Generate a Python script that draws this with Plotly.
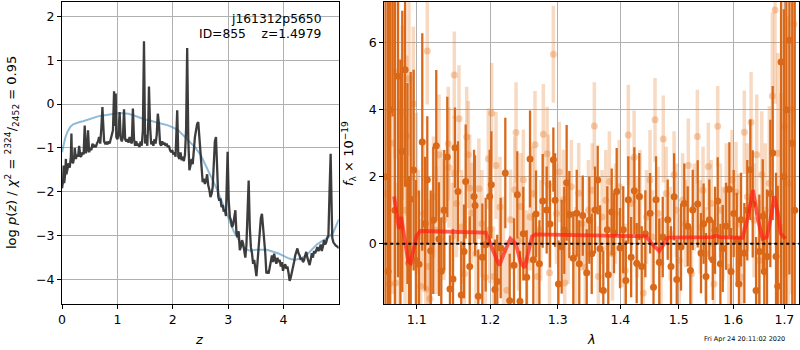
import math
import plotly.graph_objects as go

# ---------------- left panel: p(z) ----------------
Z_GRID = [
    0.00, 0.02, 0.03, 0.04, 0.06, 0.07, 0.08, 0.10, 0.12, 0.14,
    0.16, 0.17, 0.18, 0.20, 0.22, 0.23, 0.25, 0.27, 0.29, 0.31,
    0.33, 0.35, 0.37, 0.39, 0.41, 0.43, 0.45, 0.47, 0.49, 0.51,
    0.53, 0.55, 0.57, 0.59, 0.61, 0.63, 0.65, 0.67, 0.69, 0.71,
    0.73, 0.74, 0.76, 0.78, 0.80, 0.82, 0.84, 0.86, 0.88, 0.90,
    0.92, 0.94, 0.95, 0.97, 0.98, 1.00, 1.02, 1.04, 1.06, 1.08,
    1.10, 1.12, 1.14, 1.16, 1.18, 1.20, 1.22, 1.24, 1.26, 1.28,
    1.30, 1.32, 1.34, 1.36, 1.38, 1.40, 1.42, 1.44, 1.46, 1.48,
    1.50, 1.52, 1.54, 1.56, 1.57, 1.59, 1.61, 1.63, 1.65, 1.67,
    1.69, 1.71, 1.73, 1.75, 1.77, 1.79, 1.81, 1.83, 1.85, 1.87,
    1.89, 1.91, 1.93, 1.95, 1.97, 1.99, 2.01, 2.03, 2.05, 2.08,
    2.10, 2.12, 2.14, 2.16, 2.18, 2.20, 2.22, 2.24, 2.26, 2.28,
    2.30, 2.32, 2.34, 2.36, 2.38, 2.40, 2.42, 2.44, 2.46, 2.48,
    2.50, 2.52, 2.54, 2.56, 2.58, 2.60, 2.62, 2.64, 2.66, 2.68,
    2.70, 2.72, 2.74, 2.76, 2.78, 2.80, 2.82, 2.84, 2.86, 2.88,
    2.90, 2.92, 2.94, 2.96, 2.98, 2.99, 3.01, 3.03, 3.05, 3.07,
    3.09, 3.11, 3.13, 3.15, 3.17, 3.19, 3.21, 3.23, 3.25, 3.27,
    3.29, 3.31, 3.33, 3.35, 3.37, 3.39, 3.41, 3.43, 3.45, 3.47,
    3.49, 3.51, 3.53, 3.55, 3.57, 3.59, 3.61, 3.63, 3.65, 3.67,
    3.69, 3.71, 3.73, 3.75, 3.77, 3.79, 3.81, 3.83, 3.85, 3.87,
    3.89, 3.91, 3.93, 3.95, 3.97, 3.99, 4.01, 4.03, 4.05, 4.07,
    4.09, 4.11, 4.13, 4.15, 4.17, 4.19, 4.21, 4.23, 4.25, 4.27,
    4.29, 4.31, 4.33, 4.35, 4.37, 4.39, 4.41, 4.43, 4.45, 4.47,
    4.49, 4.51, 4.53, 4.55, 4.57, 4.59, 4.61, 4.63, 4.65, 4.67,
    4.69, 4.71, 4.73, 4.75, 4.77, 4.79, 4.81, 4.83, 4.85, 4.87,
    4.88, 4.90, 4.92, 4.94, 4.97, 5.00,
]
LOGPZ = [
    -1.92, -1.75, -1.40, -1.80, -1.55, -1.25, -1.60, -1.50, -1.35, -1.45,
    -1.20, -0.67, -1.30, -1.35, -1.20, -1.00, -1.25, -1.15, -1.20, -0.95,
    -1.20, -1.18, -1.10, -1.15, -0.49, -1.12, -1.05, -0.60, -1.10, -1.00,
    -1.05, -0.90, -0.98, -0.95, -0.98, -0.90, -0.85, -0.75, -0.90, -0.55,
    -0.07, -0.35, -0.85, -0.90, -0.88, -0.92, -0.85, -0.90, -0.80, -0.70,
    -0.60, 0.29, -0.50, 0.24, -0.75, -0.80, -0.70, -0.18, -0.78, -0.85,
    -0.75, -0.12, -0.80, -0.85, -0.80, -0.88, -0.75, -0.85, -0.90, -0.10,
    -0.80, -0.95, -0.85, -0.95, -0.90, -0.98, -0.85, -0.95, -0.60, 1.43,
    -0.90, -0.70, -0.95, -0.30, 0.40, -0.50, -0.92, -0.85, -0.95, -0.80,
    -0.90, -0.70, -0.22, -0.45, -0.90, -0.95, -0.85, -0.92, -0.88, -0.95,
    -0.90, -0.98, -0.95, -1.05, -1.10, -1.05, -1.15, -1.10, -1.20, -0.14,
    -1.20, -1.25, -1.10, -1.28, -1.20, -1.30, -1.15, -0.60, 1.28, -0.80,
    -1.51, -1.40, -1.25, -1.37, -0.90, -0.75, -0.60, -0.45, -0.41, -0.75,
    -0.98, -1.40, -1.78, -1.70, -1.82, -1.75, -1.60, -1.85, -1.95, -2.12,
    -2.05, -1.90, -1.40, -0.85, -0.75, -1.70, -2.10, -2.20, -2.15, -2.35,
    -2.30, -2.45, -2.40, -2.55, -1.50, -1.09, -2.20, -2.57, -2.65, -2.80,
    -2.75, -2.60, -2.42, -2.95, -3.03, -2.90, -3.33, -3.25, -3.10, -3.18,
    -3.30, -3.50, -3.20, -2.60, -1.74, -2.80, -3.26, -3.40, -3.64, -3.55,
    -3.80, -3.92, -3.60, -3.20, -2.88, -2.60, -2.50, -2.75, -3.10, -3.40,
    -3.86, -3.80, -3.86, -3.70, -3.55, -3.45, -3.60, -3.41, -3.55, -3.64,
    -3.50, -3.60, -3.55, -3.70, -3.60, -3.80, -3.70, -3.65, -3.75, -3.70,
    -3.85, -4.03, -3.95, -3.85, -3.75, -3.60, -3.45, -3.35, -3.29, -3.40,
    -3.45, -3.55, -3.50, -3.60, -3.56, -3.45, -3.37, -3.50, -3.60, -3.67,
    -3.55, -3.40, -3.50, -3.35, -3.40, -3.30, -3.26, -3.35, -3.30, -3.20,
    -3.35, -3.25, -3.10, -3.20, -3.15, -3.05, -2.99, -2.00, -1.13, -2.50,
    -3.05, -3.15, -3.20, -3.22, -3.25, -3.28,
]
Z_PRIOR = [
    0.0, 0.03, 0.06, 0.1, 0.15, 0.2, 0.26, 0.32, 0.38, 0.45,
    0.56, 0.65, 0.75, 0.9, 1.0, 1.1, 1.2, 1.3, 1.4, 1.5,
    1.6, 1.7, 1.8, 1.9, 2.0, 2.1, 2.2, 2.3, 2.4, 2.5,
    2.6, 2.7, 2.8, 2.9, 3.0, 3.1, 3.2, 3.3, 3.4, 3.5,
    3.6, 3.7, 3.8, 3.9, 4.0, 4.1, 4.2, 4.3, 4.4, 4.5,
    4.6, 4.7, 4.8, 4.9, 5.0,
]
LOGPZ_PRIOR = [
    -1.10, -0.88, -0.76, -0.63, -0.52, -0.46, -0.43, -0.41, -0.39, -0.36,
    -0.31, -0.28, -0.26, -0.22, -0.21, -0.21, -0.22, -0.26, -0.31, -0.35,
    -0.38, -0.42, -0.45, -0.48, -0.53, -0.60, -0.72, -0.85, -0.98, -1.15,
    -1.40, -1.68, -1.95, -2.25, -2.58, -2.90, -3.12, -3.30, -3.34, -3.32,
    -3.32, -3.32, -3.36, -3.40, -3.46, -3.52, -3.55, -3.52, -3.46, -3.33,
    -3.20, -3.12, -3.05, -2.92, -2.62,
]
Z_TICKS = [0, 1, 2, 3, 4]
LOGP_TICKS = [-4, -3, -2, -1, 0, 1, 2]

# ---------------- right panel: spectrum ----------------
DARK_WAVE = [
    1.0600, 1.0633, 1.0660, 1.0690, 1.0720, 1.0760, 1.0790, 1.0814, 1.0850, 1.0880,
    1.0900, 1.0922, 1.0960, 1.0990, 1.1030, 1.1073, 1.1110, 1.1139, 1.1184, 1.1218,
    1.1258, 1.1294, 1.1325, 1.1365, 1.1406, 1.1442, 1.1483, 1.1510, 1.1551, 1.1596,
    1.1634, 1.1657, 1.1713, 1.1773, 1.1787, 1.1832, 1.1889, 1.1936, 1.1993, 1.2016,
    1.2068, 1.2101, 1.2150, 1.2217, 1.2280, 1.2343, 1.2392, 1.2431, 1.2480, 1.2530,
    1.2580, 1.2629, 1.2669, 1.2720, 1.2770, 1.2830, 1.2881, 1.2932, 1.2958, 1.3010,
    1.3060, 1.3100, 1.3137, 1.3179, 1.3241, 1.3295, 1.3335, 1.3390, 1.3453, 1.3495,
    1.3533, 1.3586, 1.3629, 1.3667, 1.3720, 1.3785, 1.3801, 1.3857, 1.3895, 1.3939,
    1.3994, 1.4048, 1.4090, 1.4132, 1.4180, 1.4233, 1.4273, 1.4317, 1.4358, 1.4420,
    1.4501, 1.4560, 1.4604, 1.4660, 1.4720, 1.4807, 1.4865, 1.4920, 1.4966, 1.5042,
    1.5100, 1.5162, 1.5210, 1.5252, 1.5342, 1.5402, 1.5450, 1.5494, 1.5555, 1.5618,
    1.5660, 1.5710, 1.5760, 1.5804, 1.5866, 1.5928, 1.5960, 1.6010, 1.6068, 1.6110,
    1.6150, 1.6213, 1.6270, 1.6329, 1.6375, 1.6440, 1.6503, 1.6570, 1.6601, 1.6654,
    1.6720, 1.6767, 1.6833, 1.6867, 1.6934, 1.6990, 1.7040, 1.7101, 1.7160, 1.7210,
]
DARK_FLUX = [
    2.0, -0.83, 4.0, 7.6, 1.0, 5.0, 0.5, 2.76, 5.2, 1.8,
    -0.58, 1.33, 2.2, -0.5, -0.61, 3.04, 0.6, 1.91, -0.21, 0.70,
    2.93, 0.14, -0.82, 1.0, 2.59, -1.35, -1.05, 2.87, 1.56, -1.53,
    -0.23, 1.86, -0.68, 1.41, 1.14, -1.57, -0.40, -0.03, 1.41, 1.76,
    -1.37, -1.13, -0.13, 2.11, -1.70, -0.64, 1.46, -1.72, 0.3, -1.0,
    2.53, -0.48, 0.89, -0.6, 1.28, 1.01, 0.59, 2.51, 1.30, -1.2,
    -0.09, 0.4, 1.82, 0.87, -0.43, 0.91, -0.60, 0.84, -0.87, 0.70,
    -0.30, 1.01, 1.90, -0.15, -1.4, 0.42, -0.93, 0.95, 0.32, 1.56,
    -0.13, 0.42, -1.1, 1.31, -0.4, 1.58, -0.58, 1.41, -0.68, 0.3,
    0.91, -1.3, 1.31, -0.55, 0.2, 0.72, -0.68, 1.4, -1.07, -0.10,
    1.2, 0.52, -0.8, 1.01, 1.19, -0.28, 0.6, -0.98, 0.72, -0.48,
    0.4, 1.28, -0.6, -0.14, 0.52, 1.63, -0.83, 0.9, 0.12, -1.2,
    0.72, -0.28, 1.0, 2.21, 1.19, -1.4, -0.23, 0.82, -0.83, -0.38,
    1.5, 2.71, -0.38, -1.27, 5.43, 2.0, 4.0, 6.08, 3.0, 1.0,
]
DARK_ERR = [
    9.0, 8.5, 8.0, 3.8, 7.0, 6.0, 5.0, 4.2, 3.5, 3.0,
    2.6, 3.8, 3.0, 2.4, 2.2, 3.25, 2.0, 1.9, 1.8, 2.2,
    2.26, 1.7, 1.6, 1.8, 1.8, 1.6, 1.5, 1.2, 1.5, 1.6,
    1.4, 1.7, 1.5, 1.4, 1.5, 1.4, 1.6, 1.4, 1.4, 1.6,
    1.5, 1.4, 1.5, 1.65, 1.4, 1.4, 1.3, 1.5, 1.4, 1.4,
    1.45, 1.4, 1.3, 1.3, 1.4, 1.3, 1.3, 0.96, 1.4, 1.3,
    1.4, 1.3, 1.73, 1.3, 1.4, 1.3, 1.3, 1.2, 1.3, 1.3,
    1.2, 1.3, 1.03, 1.3, 1.2, 1.3, 1.2, 1.3, 1.2, 1.3,
    1.2, 1.3, 1.2, 1.3, 1.2, 1.3, 1.2, 1.3, 1.2, 1.3,
    1.2, 1.3, 1.3, 1.3, 1.2, 1.2, 1.2, 1.3, 1.2, 1.3,
    1.2, 1.2, 1.3, 1.2, 1.3, 1.2, 1.2, 1.3, 1.2, 1.2,
    1.3, 1.3, 1.2, 1.3, 1.3, 1.4, 1.3, 1.3, 1.4, 1.4,
    1.4, 1.5, 1.5, 1.5, 1.6, 1.6, 1.7, 1.7, 1.8, 2.0,
    2.2, 2.0, 2.5, 3.0, 7.5, 5.0, 6.0, 7.0, 9.0, 9.0,
]

LIGHT_WAVE = [
    1.0610, 1.0650, 1.0690, 1.0721, 1.0730, 1.0780, 1.0814, 1.0850, 1.0871, 1.0900, 1.0956, 1.0995,
    1.1020, 1.1052, 1.1090, 1.1118, 1.1139, 1.1150, 1.1174, 1.1220, 1.1260, 1.1294, 1.1338, 1.1360,
    1.1419, 1.1428, 1.1474, 1.1497, 1.1501, 1.1530, 1.1565, 1.1600, 1.1640, 1.1671, 1.1693, 1.1713,
    1.1740, 1.1800, 1.1840, 1.1883, 1.1930, 1.1974, 1.1994, 1.2021, 1.2047, 1.2083, 1.2140, 1.2190,
    1.2240, 1.2294, 1.2354, 1.2373, 1.2410, 1.2444, 1.2481, 1.2530, 1.2580, 1.2620, 1.2654, 1.2686,
    1.2740, 1.2779, 1.2837, 1.2855, 1.2873, 1.2932, 1.2980, 1.3024, 1.3086, 1.3108, 1.3160, 1.3210,
    1.3280, 1.3326, 1.3380, 1.3430, 1.3480, 1.3540, 1.3575, 1.3639, 1.3700, 1.3760, 1.3819, 1.3870,
    1.3920, 1.3980, 1.4030, 1.4080, 1.4132, 1.4180, 1.4229, 1.4280, 1.4330, 1.4386, 1.4440, 1.4500,
    1.4540, 1.4586, 1.4640, 1.4690, 1.4730, 1.4780, 1.4850, 1.4918, 1.4960, 1.5010, 1.5070, 1.5120,
    1.5173, 1.5230, 1.5280, 1.5336, 1.5390, 1.5440, 1.5490, 1.5537, 1.5590, 1.5640, 1.5710, 1.5760,
    1.5810, 1.5870, 1.5920, 1.5980, 1.6054, 1.6110, 1.6160, 1.6213, 1.6270, 1.6343, 1.6400, 1.6453,
    1.6500, 1.6551, 1.6620, 1.6700, 1.6760, 1.6813, 1.6870, 1.6930, 1.7000, 1.7080, 1.7150, 1.7196,
]
LIGHT_FLUX = [
    1.5, -1.2, 3.0, 5.14, -1.17, 0.8, 3.92, 1.0, 3.22, 4.93, 4.18, 1.51,
    0.2, -1.27, 0.9, -1.35, 5.76, -0.68, -1.64, 1.4, 0.4, 2.66, 1.01, 0.72,
    2.99, 2.28, 0.22, 2.11, 5.04, 1.2, 3.73, 0.5, -0.9, 3.19, 2.66, 1.66,
    0.92, -0.3, 1.64, 0.6, -1.0, 2.54, 0.42, 3.90, -0.98, 2.34, 1.1, -0.2,
    -1.39, 0.72, 1.61, 3.32, 0.1, 1.11, 1.91, -0.5, 0.8, 1.5, 2.96, -0.98,
    0.4, 3.27, 2.69, 1.76, -0.87, 5.66, 0.9, 2.14, 1.31, -1.17, 0.3, 1.7,
    -0.4, 1.51, 0.6, -0.7, 1.0, 1.6, 3.52, -0.98, 0.8, 1.3, 1.86, -0.3,
    0.9, 1.7, 0.2, -0.8, 3.25, 1.2, 2.58, 0.5, 1.4, -1.47, 0.8, 1.9,
    0.2, 3.70, 0.9, -0.6, 3.13, 1.5, 0.3, 2.06, 1.0, -0.5, 1.3, 0.6,
    2.34, -0.9, 1.1, 3.20, 0.5, 1.6, -0.3, 2.31, 1.2, -1.2, 3.51, 1.0,
    0.3, 1.6, -0.7, 1.9, 1.54, 0.6, -1.0, 3.33, 1.4, 3.63, 0.7, 2.66,
    -0.5, 2.06, 1.0, 1.81, 4.41, 6.98, 2.7, 0.5, 3.5, 1.8, 4.0, 6.56,
]
LIGHT_ERR = [
    6.0, 5.0, 4.5, 2.6, 3.0, 3.5, 2.6, 2.8, 2.4, 2.3, 2.3, 2.4,
    2.0, 2.0, 2.2, 2.0, 1.6, 2.0, 1.9, 1.8, 1.9, 1.8, 1.8, 1.8,
    1.7, 1.8, 1.6, 1.7, 1.3, 1.6, 1.6, 1.7, 1.6, 1.5, 1.6, 1.6,
    1.5, 1.6, 1.5, 1.6, 1.5, 1.5, 1.6, 1.5, 1.5, 1.6, 1.5, 1.6,
    1.5, 1.5, 1.6, 1.5, 1.5, 1.6, 1.5, 1.5, 1.6, 1.4, 1.6, 1.5,
    1.5, 1.5, 1.4, 1.5, 1.5, 1.45, 1.5, 1.5, 1.5, 1.4, 1.5, 1.4,
    1.5, 1.5, 1.4, 1.5, 1.5, 1.4, 1.3, 1.5, 1.4, 1.5, 1.5, 1.4,
    1.5, 1.4, 1.5, 1.4, 1.5, 1.4, 1.4, 1.5, 1.4, 1.4, 1.4, 1.5,
    1.4, 1.25, 1.4, 1.4, 1.3, 1.4, 1.4, 1.3, 1.4, 1.4, 1.4, 1.3,
    1.4, 1.4, 1.3, 1.4, 1.4, 1.3, 1.4, 1.3, 1.3, 1.4, 1.2, 1.4,
    1.4, 1.4, 1.4, 1.5, 1.5, 1.5, 1.5, 1.25, 1.6, 1.5, 1.7, 1.8,
    1.8, 1.9, 2.0, 2.3, 2.5, 2.8, 3.0, 4.0, 4.5, 5.0, 5.5, 3.0,
]

MODEL_WAVE = [
    1.071, 1.077, 1.080, 1.089, 1.092, 1.100, 1.105, 1.194, 1.201, 1.213,
    1.220, 1.229, 1.237, 1.244, 1.250, 1.256, 1.261, 1.266, 1.350, 1.444,
    1.453, 1.466, 1.481, 1.560, 1.568, 1.575, 1.618, 1.628, 1.638, 1.648,
    1.657, 1.665, 1.672, 1.680, 1.687, 1.693, 1.702,
]
MODEL_FLUX = [
    1.41, 0.45, 0.80, -0.53, -0.58, 0.25, 0.38, 0.33, -0.05, -0.65,
    -0.28, 0.15, 0.0, -0.55, -0.72, -0.2, 0.22, 0.28, 0.26, 0.22,
    0.0, -0.22, 0.18, 0.2, 0.24, 0.2, 0.18, 0.8, 1.6, 0.7,
    0.15, 0.2, 0.7, 1.42, 0.9, 0.3, 0.15,
]
WAVE_TICKS = [1.1, 1.2, 1.3, 1.4, 1.5, 1.6, 1.7]
FLUX_TICKS = [0, 2, 4, 6]

DARK_COLOR = "rgb(217,104,24)"
LIGHT_BAR = "rgba(232,128,50,0.30)"
LIGHT_DOT = "rgba(232,128,50,0.38)"
GRID = "#b0b0b0"
FONT = "DejaVu Sans"

fig = go.Figure()

# left panel
fig.add_trace(go.Scatter(x=Z_PRIOR, y=LOGPZ_PRIOR, mode="lines",
                         line=dict(color="rgba(31,119,180,0.5)", width=2),
                         xaxis="x", yaxis="y", hoverinfo="skip"))
fig.add_trace(go.Scatter(x=Z_GRID, y=LOGPZ, mode="lines",
                         line=dict(color="rgba(45,45,45,0.92)", width=2.3),
                         xaxis="x", yaxis="y", hoverinfo="skip"))

# right panel
fig.add_trace(go.Scatter(x=LIGHT_WAVE, y=LIGHT_FLUX, mode="markers",
                         marker=dict(size=7, color=LIGHT_DOT, line=dict(width=0)),
                         error_y=dict(type="data", array=LIGHT_ERR, width=0,
                                      thickness=3.5, color=LIGHT_BAR),
                         xaxis="x2", yaxis="y2", hoverinfo="skip"))
fig.add_trace(go.Scatter(x=DARK_WAVE, y=DARK_FLUX, mode="markers",
                         marker=dict(size=7, color=DARK_COLOR, line=dict(width=0)),
                         error_y=dict(type="data", array=DARK_ERR, width=0,
                                      thickness=2.3, color=DARK_COLOR),
                         xaxis="x2", yaxis="y2", hoverinfo="skip"))
fig.add_trace(go.Scatter(x=MODEL_WAVE, y=MODEL_FLUX, mode="lines",
                         line=dict(color="rgba(255,30,20,0.7)", width=3.8),
                         xaxis="x2", yaxis="y2", hoverinfo="skip"))

axis_common = dict(showgrid=True, gridcolor=GRID, gridwidth=1,
                   showline=True, linecolor="black", linewidth=1, mirror=True,
                   ticks="outside", ticklen=4, tickcolor="black", tickwidth=1,
                   zeroline=False, tickfont=dict(family=FONT, size=12.5, color="black"))

fig.update_layout(
    width=800, height=350,
    margin=dict(l=62, r=1, t=2, b=46),
    paper_bgcolor="white", plot_bgcolor="white",
    showlegend=False,
    font=dict(family=FONT, size=12.5, color="black"),
    xaxis=dict(domain=[0, 0.3754], range=[0, 4.995], tickvals=Z_TICKS,
               anchor="y", **axis_common),
    yaxis=dict(domain=[0, 1], range=[-4.556, 2.326], tickvals=LOGP_TICKS,
               anchor="x", **axis_common),
    xaxis2=dict(domain=[0.4373, 1], type="log",
                range=[math.log10(1.0586), math.log10(1.7297)],
                tickvals=WAVE_TICKS, ticktext=[f"{v:.1f}" for v in WAVE_TICKS],
                anchor="y2", **axis_common),
    yaxis2=dict(domain=[0, 1], range=[-1.8, 7.22], tickvals=FLUX_TICKS,
                anchor="x2", **axis_common),
    shapes=[dict(type="line", xref="x2 domain", yref="y2", x0=0, x1=1, y0=0, y1=0,
                 line=dict(color="black", width=2, dash="dot"), layer="above")],
    annotations=[
        dict(text="j161312p5650", xref="x", yref="y", x=4.72, y=1.93,
             xanchor="right", yanchor="middle", showarrow=False,
             font=dict(family=FONT, size=12.3, color="black")),
        dict(text="ID=855    z=1.4979", xref="x", yref="y", x=4.72, y=1.59,
             xanchor="right", yanchor="middle", showarrow=False,
             font=dict(family=FONT, size=12.3, color="black")),
        dict(text="log <i>p</i>(<i>z</i>) / <i>χ</i><sup>2</sup> = <sup>2324</sup>/<sub>2452</sub> = 0.95",
             xref="paper", yref="paper", x=-0.0678, y=0.5, textangle=-90,
             xanchor="center", yanchor="middle", showarrow=False,
             font=dict(family=FONT, size=13, color="black")),
        dict(text="<i>f</i><sub>λ</sub> × 10<sup>−19</sup>",
             xref="paper", yref="paper", x=0.3894, y=0.5, textangle=-90,
             xanchor="center", yanchor="middle", showarrow=False,
             font=dict(family=FONT, size=13, color="black")),
        dict(text="<i>z</i>", xref="paper", yref="paper", x=0.1872, y=-0.119,
             xanchor="center", yanchor="middle", showarrow=False,
             font=dict(family=FONT, size=13, color="black")),
        dict(text="<i>λ</i>", xref="paper", yref="paper", x=0.7178, y=-0.119,
             xanchor="center", yanchor="middle", showarrow=False,
             font=dict(family=FONT, size=13, color="black")),
        dict(text="Fri Apr 24 20:11:02 2020", xref="paper", yref="paper",
             x=0.9254, y=-0.116, xanchor="center", yanchor="middle", showarrow=False,
             font=dict(family=FONT, size=6.5, color="black")),
    ],
)

fig.write_html("out.html",
               config={"displayModeBar": False},
               post_script="document.body.style.margin='0';document.body.style.overflow='hidden';")
